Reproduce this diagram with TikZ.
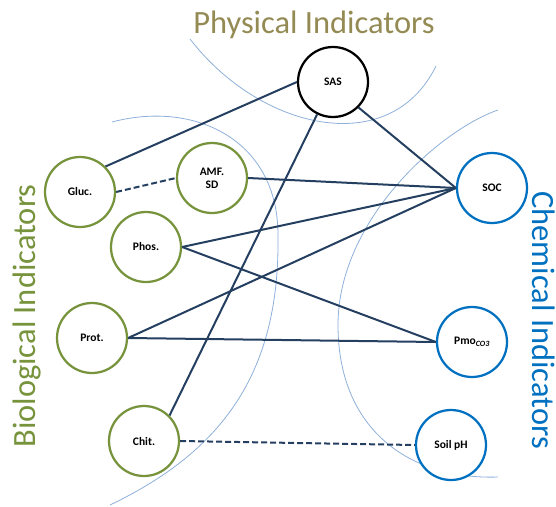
\documentclass[tikz,border=0pt]{standalone}
\usepackage{fontspec}
\setmainfont{Carlito}
\usepackage{tikz}
\definecolor{bioGreen}{HTML}{77933C}
\definecolor{chemBlue}{HTML}{0070C0}
\definecolor{physOlive}{HTML}{948A54}
\definecolor{linkNavy}{HTML}{243F60}
\definecolor{zoneBlue}{HTML}{8EB0DA}
\def\titlefont{\fontsize{32.5}{38}\selectfont}

\begin{document}
\begin{tikzpicture}[x=1pt,y=-1pt,
		indic/.style={circle,draw,fill=white,line width=2.25pt,minimum size=70pt,inner sep=0pt,
			align=center,font=\fontsize{11.5}{13}\selectfont\bfseries},
		bio/.style={indic,draw=bioGreen},
		chem/.style={indic,draw=chemBlue},
		phys/.style={indic,draw=black},
		link/.style={draw=linkNavy,line width=2pt},
		weak/.style={link,dash pattern=on 6pt off 3pt},
		zone/.style={draw=zoneBlue,line width=0.8pt},
		heading/.style={font=\titlefont,anchor=base}]
		%%%%% START %%%%%
		
		\useasboundingbox (0,0) rectangle (556,506);
		
		% zones
		\draw[zone] (190,39) .. controls (260,130) and (390,160) .. (436,66);
		\draw[zone] (112,122) .. controls (195,100) and (278,140) .. (278,235)
			.. controls (280,370) and (225,450) .. (110,505);
		\draw[zone] (498,110) .. controls (440,130) and (338,220) .. (338,325)
			.. controls (338,430) and (410,480) .. (498,477);
		
		% headings
		\node[heading,text=physOlive] (physT) at (314,33) {Physical Indicators};
		\node[heading,text=bioGreen,rotate=90] (bioT) at (35,316) {Biological Indicators};
		\node[heading,text=chemBlue,rotate=-90] (chemT) at (532,320) {Chemical Indicators};
		
		% indicators
		\node[phys] (sas) at (333,82) {SAS};
		
		\node[bio] (gluc) at (80,192) {Gluc.};
		\node[bio] (amf) at (212,178) {AMF.\\SD};
		\node[bio] (phos) at (146,247) {Phos.};
		\node[bio] (prot) at (92,338) {Prot.};
		\node[bio] (chit) at (144,441) {Chit.};
		
		\node[chem] (soc) at (492,188) {SOC};
		\node[chem] (pmo) at (472,342) {Pmo\textsubscript{\itshape CO3}};
		\node[chem] (ph) at (451,445) {Soil pH};
		
		% links
		\draw[link] (gluc.north east) -- (sas.west);
		\draw[weak] (gluc.east) -- (amf.west);
		\draw[link] (sas.south east) -- (soc.west);
		\draw[link] (sas) -- (chit.north east);
		\draw[link] (amf.east) -- (soc.west);
		\draw[link] (phos.east) -- (soc.west);
		\draw[link] (phos.east) -- (pmo.west);
		\draw[link] (prot.east) -- (soc.west);
		\draw[link] (prot.east) -- (pmo.west);
		\draw[weak] (chit.east) -- (ph.west);
		
		%%%%% END %%%%%
	\end{tikzpicture}
\end{document}
